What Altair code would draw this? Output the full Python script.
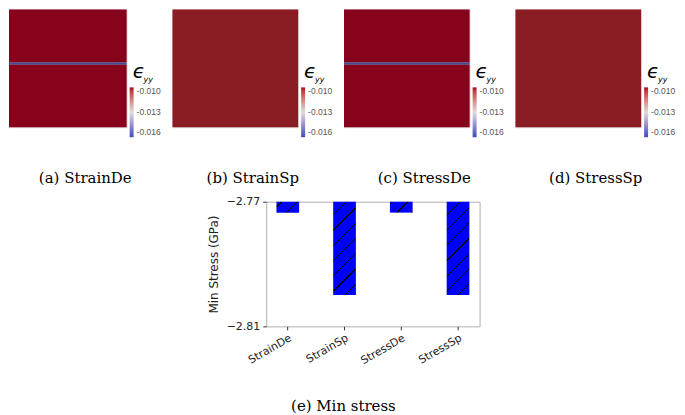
import altair as alt
import pandas as pd

# ---------------- data ----------------
panel_labels = ["(a) StrainDe", "(b) StrainSp", "(c) StressDe", "(d) StressSp"]
background_values = [-0.0100, -0.0102, -0.0100, -0.0102]   # uniform field value of each map
band_values = [-0.0155, None, -0.0155, None]               # thin horizontal band in (a), (c)
map_rows = 59.0                                             # visible map height, mesh rows
band_top, band_bottom = 26.5, 27.65                         # band position, mesh rows

legend_ticks = [-0.016, -0.013, -0.010]
cmap_domain = [-0.016, -0.013, -0.010]
cmap_colors = ["#3b4cc0", "#dddddd", "#b40426"]

bar_categories = ["StrainDe", "StrainSp", "StressDe", "StressSp"]
min_stress = [-2.7735, -2.7999, -2.7735, -2.7999]
y_ticks = [-2.81, -2.77]

# ---------------- style ----------------
IMG_W = [118, 126, 126, 126]     # first map is cropped on the left, as in the reference
IMG_H = 118                      # maps are cropped at the top
X_SHIFT = [8, 0, 0, 0]
PANEL_SPACING = 9
PLOT_W, PLOT_H = 214, 125
PAD_INNER, PAD_OUTER = 0.6, 0.18
HATCH_PERIOD, HATCH_LINE = 15.3, 1.4
hatch_phase = [4.7, 12.7, 1.7, 12.7]
SPACER_W = 198


def hatch_fill(W, H, phase):
    L = W + H
    a = W * L / (W * W + H * H)
    b = H * L / (W * W + H * H)
    stops = [{"offset": 0, "color": "#0000ff"}]
    pos = phase
    while pos < L:
        s = pos / L
        e = min((pos + HATCH_LINE) / L, 1.0)
        stops += [{"offset": s, "color": "#0000ff"}, {"offset": s, "color": "#000000"},
                  {"offset": e, "color": "#000000"}, {"offset": e, "color": "#0000ff"}]
        pos += HATCH_PERIOD
    stops.append({"offset": 1, "color": "#0000ff"})
    return {"gradient": "linear", "x1": 0, "y1": 0, "x2": a, "y2": b, "stops": stops}


one = pd.DataFrame({"k": [0]})


def panel(i):
    if band_values[i] is None:
        segs = [(0.0, map_rows, background_values[i])]
    else:
        segs = [(0.0, band_top, background_values[i]),
                (band_top, band_bottom, band_values[i]),
                (band_bottom, map_rows, background_values[i])]
    df = pd.DataFrame({"r0": [s[0] for s in segs], "r1": [s[1] for s in segs],
                       "c0": 0.0, "c1": 1.0, "eyy": [s[2] for s in segs]})
    dx = X_SHIFT[i]
    heat = alt.Chart(df).mark_rect(strokeWidth=0).encode(
        x=alt.X("c0:Q", axis=None, scale=alt.Scale(domain=[0, 1], nice=False, zero=False)),
        x2="c1:Q",
        y=alt.Y("r0:Q", axis=None, scale=alt.Scale(domain=[0, map_rows], reverse=True, nice=False, zero=False)),
        y2="r1:Q",
        color=alt.Color(
            "eyy:Q",
            scale=alt.Scale(domain=cmap_domain, range=cmap_colors, interpolate="lab"),
            legend=alt.Legend(
                title=None, orient="none", legendX=129 - dx, legendY=78,
                direction="vertical", gradientLength=50, gradientThickness=4,
                gradientStrokeWidth=0, values=legend_ticks, format=".3f",
                labelExpr="replace(datum.label, '\u2212', '-')",
                labelFont="Liberation Sans", labelFontSize=8.5, labelColor="#555555",
                labelBaseline="middle", labelOffset=3,
            ),
        ),
    )
    shade = alt.Chart(one).mark_rect(color="black", opacity=0.25).encode(
        x=alt.value(0), x2=alt.value("width"), y=alt.value(0), y2=alt.value("height")
    )
    eps = alt.Chart(one).mark_text(
        text="\u03f5", font="DejaVu Sans", fontSize=20, fontStyle="italic",
        align="left", baseline="alphabetic", color="black"
    ).encode(x=alt.value(132 - dx), y=alt.value(69))
    sub = alt.Chart(one).mark_text(
        text="yy", font="DejaVu Sans", fontSize=8, fontStyle="italic",
        align="left", baseline="alphabetic", color="black"
    ).encode(x=alt.value(143 - dx), y=alt.value(73))
    return alt.layer(heat, shade, eps, sub).properties(
        width=IMG_W[i], height=IMG_H,
        title=alt.TitleParams(panel_labels[i], orient="bottom", font="DejaVu Serif", frame="bounds",
                              fontSize=15, fontWeight="normal", color="black", offset=34),
    )


top_row = alt.hconcat(*[panel(i) for i in range(4)], spacing=PANEL_SPACING).resolve_scale(
    color="independent").resolve_legend(color="independent")

bars_df = pd.DataFrame({"case": bar_categories, "stress": min_stress})
span = y_ticks[1] - y_ticks[0]
step = PLOT_W / (len(bar_categories) - PAD_INNER + 2 * PAD_OUTER)
bar_w = step * (1 - PAD_INNER)

bar_layers = []
for i, cat in enumerate(bar_categories):
    H = (y_ticks[1] - min_stress[i]) / span * PLOT_H
    lyr = alt.Chart(bars_df).transform_filter(alt.datum.case == cat).mark_bar(
        fill=hatch_fill(bar_w, H, hatch_phase[i]), strokeWidth=0
    ).encode(
        x=alt.X("case:N", sort=bar_categories,
                scale=alt.Scale(domain=bar_categories, paddingInner=PAD_INNER, paddingOuter=PAD_OUTER),
                axis=alt.Axis(title=None, labelAngle=-30, labelAlign="right", labelBaseline="top",
                              labelFont="DejaVu Sans", labelFontSize=11, labelColor="#222222",
                              tickSize=3.5, tickColor="#333333", domain=False, labelPadding=2)),
        y=alt.Y("stress:Q",
                scale=alt.Scale(domain=[y_ticks[0], y_ticks[1]], zero=False, nice=False),
                axis=alt.Axis(title="Min Stress (GPa)", values=y_ticks, format=".2f", grid=False,
                              labelFont="DejaVu Sans", labelFontSize=11, labelColor="#222222",
                              titleFont="DejaVu Sans", titleFontSize=12, titleFontWeight="normal",
                              titleColor="#222222", tickSize=3.5, tickColor="#333333",
                              domain=False, labelPadding=3, titlePadding=6)),
        y2=alt.datum(y_ticks[1]),
    )
    bar_layers.append(lyr)

bar_chart = alt.layer(*bar_layers).properties(
    width=PLOT_W, height=PLOT_H,
    view=alt.ViewBackground(stroke="#b0b0b0", strokeWidth=1),
    title=alt.TitleParams("(e) Min stress", orient="bottom", font="DejaVu Serif", fontSize=15,
                          frame="bounds", fontWeight="normal", color="black", offset=33),
)

spacer = alt.Chart(one).mark_point(opacity=0, size=1).encode(
    x=alt.value(0), y=alt.value(0)
).properties(width=SPACER_W, height=1,
             view=alt.ViewBackground(stroke="transparent", strokeWidth=0, fill="transparent"))

bottom_row = alt.hconcat(spacer, bar_chart, spacing=0)

chart = alt.vconcat(top_row, bottom_row, spacing=7.7).properties(
    padding=0
).configure_view(stroke="transparent").configure(background="white")

chart.save("out.html", embed_options={"renderer": "svg", "actions": False})
